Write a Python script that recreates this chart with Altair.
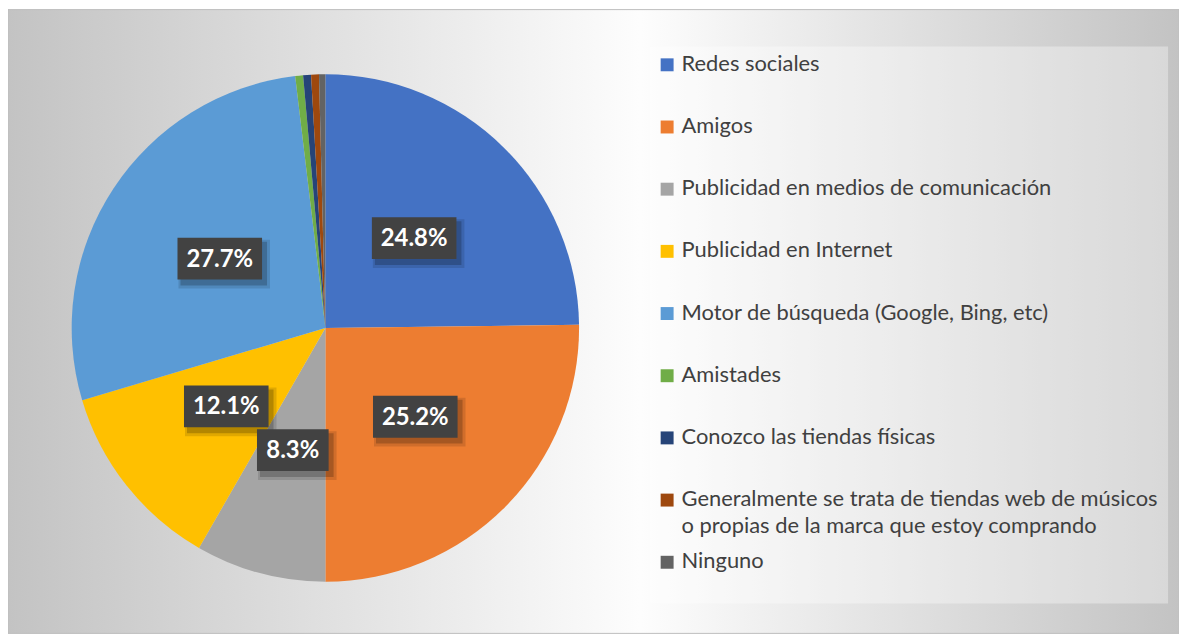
import altair as alt
import pandas as pd

categories = [
    "Redes sociales",
    "Amigos",
    "Publicidad en medios de comunicación",
    "Publicidad en Internet",
    "Motor de búsqueda (Google, Bing, etc)",
    "Amistades",
    "Conozco las tiendas físicas",
    "Generalmente se trata de tiendas web de músicos o propias de la marca que estoy comprando",
    "Ninguno",
]
values = [24.8, 25.2, 8.3, 12.1, 27.7, 0.5, 0.5, 0.5, 0.4]
pct_labels = ["24.8%", "25.2%", "8.3%", "12.1%", "27.7%", "", "", "", ""]
legend_labels = [
    "Redes sociales",
    "Amigos",
    "Publicidad en medios de comunicación",
    "Publicidad en Internet",
    "Motor de búsqueda (Google, Bing, etc)",
    "Amistades",
    "Conozco las tiendas físicas",
    "Generalmente se trata de tiendas web de músicos\no propias de la marca que estoy comprando",
    "Ninguno",
]
colors = ["#4472C4", "#ED7D31", "#A5A5A5", "#FFC000", "#5B9BD5",
          "#70AD47", "#264478", "#9E480E", "#636363"]

W, H = 1177, 627
CX, CY, R = 319, 320, 255
LR = 127
LEG_Y0, LEG_SP = 55.5, 62.5

df = pd.DataFrame({
    "idx": list(range(len(categories))),
    "cat": categories,
    "value": values,
    "pct": pct_labels,
    "legend": legend_labels,
})

color_scale = alt.Scale(domain=categories, range=colors)
base = alt.Chart(df)
one = pd.DataFrame({"a": [1]})

bg = alt.Chart(one).mark_rect(
    fill=alt.Gradient(
        gradient="linear", x1=0, x2=1, y1=0, y2=0,
        stops=[
            alt.GradientStop(color="#c3c3c3", offset=0),
            alt.GradientStop(color="#fdfdfd", offset=0.54),
            alt.GradientStop(color="#c3c3c3", offset=1),
        ],
    ),
    stroke="#bdbdbd", strokeWidth=1,
).encode(x=alt.value(0), x2=alt.value(W), y=alt.value(0), y2=alt.value(H))

legbox = alt.Chart(one).mark_rect(fill="white", opacity=0.35).encode(
    x=alt.value(645), x2=alt.value(1166), y=alt.value(37), y2=alt.value(597)
)

pie = base.mark_arc(radius=R).encode(
    theta=alt.Theta("value:Q", stack=True),
    order=alt.Order("idx:Q", sort="ascending"),
    color=alt.Color("cat:N", scale=color_scale, legend=None),
    x=alt.value(CX),
    y=alt.value(CY),
)

lab = base.transform_joinaggregate(total="sum(value)").transform_window(
    cum="sum(value)", sort=[alt.SortField("idx")], frame=[None, 0]
).transform_calculate(
    mid="(datum.cum - datum.value/2)/datum.total*2*PI",
    lx=f"{CX} + {LR}*sin(datum.mid)",
    ly=f"{CY} - {LR}*cos(datum.mid)",
    bw="13*length(datum.pct)+20",
    x0="datum.lx - datum.bw/2",
    x1="datum.lx + datum.bw/2",
    y0="datum.ly - 21",
    y1="datum.ly + 21",
    s1x0="datum.x0 + 3", s1x1="datum.x1 + 5",
    s1y0="datum.y0 + 4", s1y1="datum.y1 + 6",
    s2x0="datum.x0 + 1", s2x1="datum.x1 + 8",
    s2y0="datum.y0 + 2", s2y1="datum.y1 + 9",
).transform_filter("datum.value >= 1")

shadow2 = lab.mark_rect(fill="black", opacity=0.12).encode(
    x=alt.X("s2x0:Q", scale=None, axis=None), x2="s2x1:Q",
    y=alt.Y("s2y0:Q", scale=None, axis=None), y2="s2y1:Q",
)
shadow1 = lab.mark_rect(fill="black", opacity=0.2).encode(
    x=alt.X("s1x0:Q", scale=None, axis=None), x2="s1x1:Q",
    y=alt.Y("s1y0:Q", scale=None, axis=None), y2="s1y1:Q",
)
boxes = lab.mark_rect(fill="#424242").encode(
    x=alt.X("x0:Q", scale=None, axis=None), x2="x1:Q",
    y=alt.Y("y0:Q", scale=None, axis=None), y2="y1:Q",
)
texts = lab.mark_text(
    font="Lato", fontWeight="bold", fontSize=24, color="white",
    align="center", baseline="middle", dy=1,
).encode(
    x=alt.X("lx:Q", scale=None, axis=None),
    y=alt.Y("ly:Q", scale=None, axis=None),
    text="pct:N",
)

leg = base.transform_calculate(gy=f"{LEG_Y0} + {LEG_SP}*datum.idx")
legsq = leg.mark_square(size=169, opacity=1, filled=True).encode(
    x=alt.value(662.5),
    y=alt.Y("gy:Q", scale=None, axis=None),
    color=alt.Color("cat:N", scale=color_scale, legend=None),
)
legtxt = leg.mark_text(
    align="left", baseline="alphabetic", dy=6, font="Lato", fontSize=22,
    color="#404040", lineBreak="\n", lineHeight=27,
).encode(
    x=alt.value(677),
    y=alt.Y("gy:Q", scale=None, axis=None),
    text="legend:N",
)

chart = alt.layer(
    bg, legbox, pie, shadow2, shadow1, boxes, texts, legsq, legtxt
).properties(
    width=W, height=H, padding=0, autosize="none"
).configure_view(stroke=None)

chart.save("out.html", embed_options={"renderer": "svg", "actions": False})
